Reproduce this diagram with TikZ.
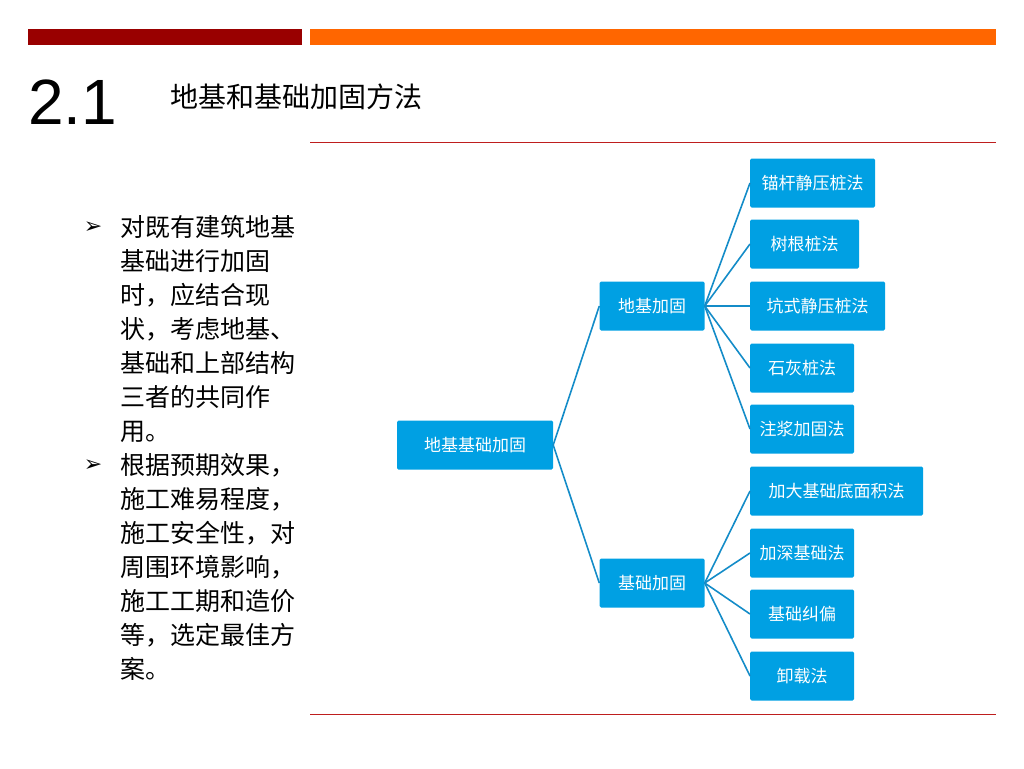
\documentclass[tikz,border=0pt]{standalone}
\usepackage{fontspec}
\setmainfont{Liberation Sans}
\newfontfamily\cjk{Noto Sans CJK SC}
\newfontfamily\dingfont{DejaVu Sans}
\usetikzlibrary{positioning}
\definecolor{barred}{RGB}{153,0,0}
\definecolor{barorange}{RGB}{255,102,0}
\definecolor{boxblue}{RGB}{0,160,227}
\definecolor{linkblue}{RGB}{20,140,200}
\definecolor{rulered}{RGB}{190,30,30}
\tikzset{
  box/.style={fill=boxblue, rounded corners=1.5pt, minimum height=49pt,
    text=white, font=\cjk\fontsize{17}{20}\selectfont, inner xsep=5pt},
  leaf/.style={box, anchor=west},
  link/.style={linkblue, line width=1.6pt},
  bodytext/.style={anchor=north west, align=left, font=\cjk\fontsize{25}{34}\selectfont, inner sep=0pt},
}
\begin{document}
\begin{tikzpicture}[x=1pt,y=-1pt]
  \useasboundingbox (0,0) rectangle (1024,768);
  % header bars and rules
  \fill[barred] (28,29) rectangle (302,45);
  \fill[barorange] (310,29) rectangle (996,45);
  \draw[rulered, line width=1pt] (310,142) -- (996,142);
  \draw[rulered, line width=1pt] (310,714) -- (996,714);
  \node[anchor=west, inner sep=0pt, font=\fontsize{64}{64}\selectfont] (num) at (28,102) {2.1};
  \node[anchor=west, inner sep=0pt, font=\cjk\fontsize{28}{30}\selectfont] (title) at (170,97) {地基和基础加固方法};
  % bullets
  \node[anchor=center, font=\dingfont\fontsize{22}{22}\selectfont] (b1) at (93,228) {➢};
  \node[anchor=center, font=\dingfont\fontsize{22}{22}\selectfont] (b2) at (93,466) {➢};
  \node[bodytext] (t1) at (120,215) {对既有建筑地基\\基础进行加固\\时，应结合现\\状，考虑地基、\\基础和上部结构\\三者的共同作\\用。};
  \node[bodytext] (t2) at (120,453) {根据预期效果，\\施工难易程度，\\施工安全性，对\\周围环境影响，\\施工工期和造价\\等，选定最佳方\\案。};
  % tree
  \node[box, minimum width=156pt] (root) at (475,445) {地基基础加固};
  \node[box, minimum width=105pt] (dj) at (652,306) {地基加固};
  \node[box, minimum width=105pt] (jc) at (652,583) {基础加固};
  \node[leaf, minimum width=125pt] (l1) at (750,183) {锚杆静压桩法};
  \node[leaf, minimum width=109pt] (l2) at (750,244) {树根桩法};
  \node[leaf, minimum width=135pt] (l3) at (750,306) {坑式静压桩法};
  \node[leaf, minimum width=104pt] (l4) at (750,368) {石灰桩法};
  \node[leaf, minimum width=104pt] (l5) at (750,429) {注浆加固法};
  \node[leaf, minimum width=173pt] (l6) at (750,491) {加大基础底面积法};
  \node[leaf, minimum width=104pt] (l7) at (750,553) {加深基础法};
  \node[leaf, minimum width=104pt] (l8) at (750,614) {基础纠偏};
  \node[leaf, minimum width=104pt] (l9) at (750,676) {卸载法};
  \draw[link] (root.east) -- (dj.west);
  \draw[link] (root.east) -- (jc.west);
  \foreach \l in {l1,l2,l3,l4,l5}
    \draw[link] (dj.east) -- (\l.west);
  \foreach \l in {l6,l7,l8,l9}
    \draw[link] (jc.east) -- (\l.west);
\end{tikzpicture}
\end{document}
